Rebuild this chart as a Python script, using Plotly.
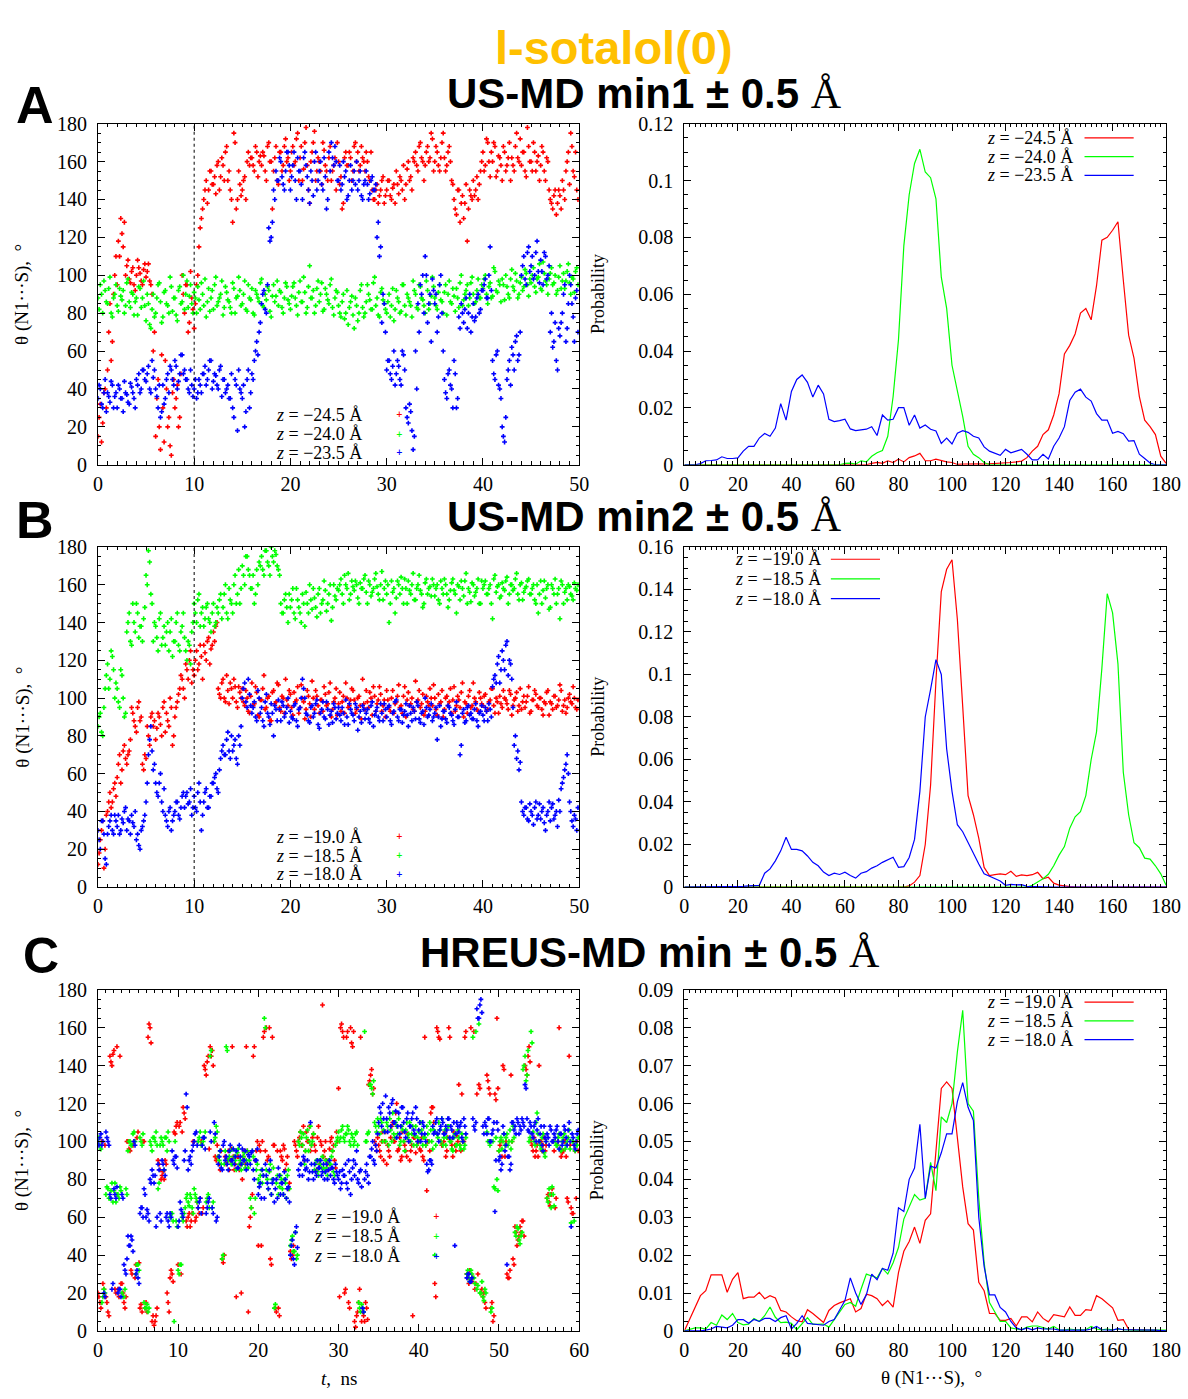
import plotly.graph_objects as go
from plotly.subplots import make_subplots

W, H = 1188, 1399
RED, GREEN, BLUE = '#ff0000', '#00ff00', '#0000ff'
DT = 0.25  # ns between stored samples; second set of samples is offset by DT/2

# ---------------- Panel A (US-MD min1) time series, theta in degrees ----------------
a_red = [15,32,22,40,50,85,65,100,95,110,122,128,105,98,102,95,100,104,97,103,
         99,106,95,60,15,45,8,30,55,20,10,38,30,42,25,100,80,95,75,88,
         72,95,115,130,140,150,145,155,148,143,160,152,158,165,150,145,128,170,140,148,
         145,152,160,158,162,155,165,160,158,163,150,170,160,155,168,148,165,158,172,162,
         155,168,160,175,162,150,170,158,138,165,176,155,160,148,166,155,162,150,158,145,
         160,152,138,165,158,162,155,170,165,158,162,155,160,150,145,140,148,142,150,138,
         145,150,140,148,155,143,150,158,148,160,152,162,165,155,170,160,158,168,162,172,
         160,165,155,170,162,158,168,150,140,132,145,138,130,148,135,142,150,145,140,155,
         165,158,170,152,160,168,155,162,150,165,158,170,162,155,175,160,158,165,152,168,
         160,170,155,163,158,165,150,160,140,135,145,138,142,150,140,160,148,168,152,145]
a_red2 = [25,12,38,30,70,55,90,110,118,130,115,100,108,96,104,92,108,101,95,106,
          102,97,90,70,35,20,58,12,40,25,5,45,35,20,48,90,95,70,102,82,
          85,100,125,135,145,138,155,148,152,158,145,162,150,168,155,140,175,135,155,142,
          150,140,165,162,158,168,152,163,165,155,168,160,135,162,150,165,155,168,160,150,
          165,158,172,150,168,156,178,145,160,170,150,162,155,170,158,150,168,155,162,170,
          148,135,162,158,165,150,168,160,155,168,160,165,152,165,140,145,138,145,152,142,
          150,142,146,138,148,152,145,140,156,150,145,160,158,168,162,150,165,160,175,155,
          168,158,162,175,155,165,160,148,135,145,128,142,138,118,145,140,142,152,148,160,
          155,172,160,165,170,152,163,158,168,155,162,150,158,168,162,172,165,155,178,160,
          155,165,160,150,168,155,162,145,138,142,132,145,135,145,155,165,175,155,165,140]
a_green = [88,95,80,92,85,99,78,90,84,93,87,80,96,86,91,79,88,94,83,97,
           76,85,72,90,80,95,86,78,92,84,99,81,88,76,94,86,82,97,89,85,
           91,80,87,96,84,78,93,88,82,99,86,90,79,94,87,83,96,80,89,92,
           85,97,81,88,93,79,90,86,98,83,87,92,78,95,89,84,91,80,96,87,
           82,94,88,79,97,86,91,83,105,88,80,93,86,96,82,90,85,98,79,92,
           84,78,90,80,74,86,79,88,76,92,83,80,95,87,82,99,88,78,93,85,
           80,90,84,76,92,86,81,95,79,88,84,97,90,82,94,87,80,92,85,99,
           88,82,95,86,91,79,97,85,89,93,83,100,87,92,84,96,90,86,98,88,
           93,100,85,96,89,102,91,95,98,87,94,88,103,92,97,90,99,94,101,89,
           96,104,91,99,93,107,97,90,101,95,100,92,105,97,93,102,96,99,91,104]
a_green2 = [82,90,97,86,93,80,88,95,81,89,92,84,98,83,90,86,79,93,88,84,
            90,74,82,78,88,96,75,91,85,80,94,88,79,92,85,100,90,83,95,80,
            88,94,82,90,98,86,81,92,95,84,88,97,83,91,86,80,93,88,99,84,
            90,82,95,87,80,92,88,96,84,90,94,81,89,86,97,92,83,88,94,85,
            89,96,84,91,86,99,80,94,88,92,84,97,90,81,93,87,95,83,88,91,
            80,86,77,92,83,89,72,84,80,95,78,86,90,82,96,84,79,91,87,82,
            86,78,93,82,88,80,95,84,90,86,78,92,83,95,88,84,97,82,89,94,
            84,91,87,80,95,90,86,93,81,88,96,84,90,95,88,99,85,92,88,95,
            98,90,94,88,104,92,97,86,95,100,90,98,94,101,88,96,92,103,95,98,
            100,94,98,106,92,101,95,98,104,96,90,99,93,101,97,106,90,98,102,95]
a_blue = [35,40,30,45,38,33,42,36,30,40,35,44,37,32,41,35,45,48,40,50,
          44,52,38,46,40,30,25,42,35,48,52,45,55,40,48,58,50,45,38,42,
          40,35,45,38,48,42,50,55,44,47,40,52,45,38,42,35,30,45,18,40,
          35,20,45,30,48,55,65,70,85,92,80,125,120,145,155,150,160,148,155,165,
          145,158,150,162,155,140,165,152,138,150,160,145,155,148,162,135,165,170,158,160,
          150,145,160,155,142,158,150,148,145,155,140,150,148,143,152,145,120,110,75,85,
          50,55,45,60,48,52,42,58,30,22,28,8,60,85,95,100,110,75,90,98,
          85,70,95,80,45,35,50,40,55,30,78,85,75,88,80,70,85,78,90,82,
          92,98,88,115,55,45,60,40,20,12,45,55,62,50,68,58,100,110,95,115,
          105,98,112,102,108,95,110,100,70,62,75,50,68,80,95,72,100,85,65,92]
a_blue2 = [42,32,38,28,36,44,30,38,42,35,28,38,33,43,38,30,42,38,50,45,
           48,40,55,50,36,42,28,32,45,38,50,42,52,44,58,48,45,40,50,36,
           45,38,42,48,52,45,55,40,48,42,50,36,45,40,35,48,25,42,50,38,
           42,28,50,38,45,60,58,75,90,82,95,118,128,140,150,162,152,145,165,158,
           152,165,140,155,148,162,158,145,155,142,165,150,160,145,152,140,155,162,168,150,
           158,148,152,140,150,145,155,160,150,142,148,155,140,150,145,148,128,115,90,70,
           55,48,52,42,55,45,60,50,25,32,18,15,40,70,90,80,100,85,65,92,
           90,78,100,60,38,48,42,30,48,35,72,80,82,72,90,78,76,88,80,92,
           95,88,100,92,48,58,42,35,15,25,50,42,58,65,55,70,105,98,112,102,
           110,100,118,96,102,112,98,105,80,65,55,72,75,90,65,85,95,78,88,70]

# ---------------- Panel B (US-MD min2) ----------------
b_red = [12,25,35,20,40,50,45,55,58,70,62,75,65,72,95,88,82,98,90,62,
         68,80,90,85,78,92,86,95,82,88,100,75,90,98,105,110,100,115,120,108,
         112,125,118,122,128,120,132,126,135,138,105,100,110,98,104,108,100,106,95,103,
         105,96,100,92,108,97,103,90,99,112,95,101,88,104,98,107,93,100,110,96,
         102,91,98,106,95,100,89,104,97,109,94,101,92,99,106,96,103,90,98,105,
         97,93,101,108,95,99,104,92,100,96,110,94,98,103,91,101,97,106,93,99,
         104,95,100,92,98,107,96,101,90,103,97,94,109,99,95,102,93,98,105,96,
         100,91,97,104,94,101,98,92,106,96,99,103,90,97,101,95,108,98,93,100,
         96,102,94,99,105,92,98,101,95,100,97,104,91,99,103,96,94,101,98,106,
         93,99,102,95,100,91,97,104,98,94,101,96,107,93,99,95,102,97,100,94]
b_red2 = [18,30,10,38,45,42,52,48,65,55,72,68,70,78,92,85,95,88,65,70,
          85,75,92,88,84,90,80,98,92,85,95,80,95,102,112,105,118,110,125,115,
          120,115,128,110,124,130,118,128,130,140,102,108,100,112,97,105,110,98,106,100,
          98,104,93,101,96,106,91,99,105,94,100,88,103,97,108,95,101,92,99,104,
          95,103,99,92,107,98,94,101,90,100,104,96,99,93,102,97,108,94,100,91,
          103,98,92,100,96,105,99,94,101,89,97,104,95,100,106,93,99,102,96,90,
          99,93,104,97,101,95,92,106,99,96,100,93,98,104,97,91,101,96,100,107,
          94,102,98,90,100,96,105,99,93,101,95,108,98,92,104,96,100,94,103,97,
          101,93,98,105,96,100,92,97,104,99,94,102,96,100,93,105,98,95,101,92,
          99,104,96,100,94,98,103,91,97,101,95,99,104,96,92,100,98,106,95,99]
b_green = [85,92,80,105,118,110,122,100,105,95,112,90,135,145,128,140,150,132,138,142,
           165,178,155,130,138,125,145,132,128,140,135,122,130,145,125,138,132,120,128,135,
           150,140,155,145,138,148,142,135,150,140,145,155,148,160,142,152,145,165,155,150,
           170,160,175,165,158,150,168,172,175,165,178,170,180,172,176,168,150,145,155,140,
           148,158,142,152,145,155,138,150,160,147,153,143,158,150,162,146,155,141,160,152,
           157,163,150,160,166,155,159,162,153,161,158,165,150,160,156,163,159,152,167,158,
           155,140,162,158,153,160,164,150,158,162,155,166,152,160,157,148,161,155,159,163,
           154,160,150,158,163,155,152,161,157,145,159,162,154,166,158,151,160,156,163,150,
           158,162,155,160,142,165,159,153,161,157,164,155,160,158,166,152,161,156,159,163,
           155,160,150,145,162,157,153,160,148,158,163,155,142,160,156,152,159,154,161,157]
b_green2 = [90,82,95,112,105,125,115,108,98,115,100,92,140,130,150,135,145,138,130,148,
            160,172,150,140,132,142,128,138,135,125,142,130,140,128,135,145,125,130,118,140,
            145,152,138,148,142,150,140,145,138,148,152,142,155,145,158,150,160,150,168,158,
            165,175,168,158,165,155,160,170,168,178,172,165,175,178,170,165,145,152,148,155,
            152,145,158,148,140,150,156,145,152,158,148,155,145,152,157,150,160,148,154,158,
            160,155,165,158,152,162,157,160,150,158,163,156,162,154,158,166,155,160,152,162,
            160,150,156,145,162,155,158,163,150,157,160,152,158,165,155,150,163,158,154,160,
            158,152,162,155,160,148,157,163,155,160,152,158,162,150,156,161,154,158,150,162,
            160,155,158,150,163,156,160,154,158,162,150,160,157,163,155,160,152,158,162,155,
            158,152,160,155,150,162,158,147,160,155,150,158,162,150,158,160,155,152,158,160]
b_blue = [30,20,35,15,28,35,30,38,32,28,36,40,30,35,38,32,25,22,30,35,
          45,70,85,62,55,48,60,40,38,32,42,35,40,45,36,48,42,50,45,38,
          48,40,55,30,45,52,42,48,55,60,50,68,75,70,82,68,72,78,65,75,
          100,108,95,102,92,98,88,100,95,85,102,90,97,80,94,99,88,96,92,100,
          93,89,97,85,95,110,100,91,87,96,92,99,84,94,90,98,86,93,97,89,
          95,88,92,99,86,94,91,97,83,93,96,89,94,87,98,91,95,88,92,97,
          90,96,86,93,99,88,94,91,97,85,92,95,89,96,87,93,100,90,94,88,
          92,78,96,89,93,87,95,91,86,98,90,75,94,88,96,92,89,97,85,93,
          91,95,88,94,106,112,118,108,125,115,130,120,110,75,68,62,45,38,42,35,
          40,33,45,38,36,42,30,40,35,44,38,32,40,55,62,70,45,35,38,30]
b_blue2 = [25,35,28,12,32,38,28,35,38,30,34,42,36,28,34,40,28,20,32,38,
           55,78,72,65,50,55,45,52,35,40,30,38,45,38,42,50,48,44,52,42,
           42,50,45,38,50,42,48,55,58,52,62,72,70,78,72,80,75,68,80,85,
           105,98,110,96,95,90,104,92,88,98,92,86,92,96,88,94,98,90,95,87,
           90,96,88,94,100,105,92,88,95,90,97,86,92,98,89,94,91,87,95,92,
           91,95,86,90,97,92,88,95,90,87,94,92,89,96,85,93,90,97,88,94,
           95,88,92,98,90,94,87,93,91,96,88,93,98,89,92,86,95,91,97,90,
           95,90,85,93,89,96,92,88,94,90,70,92,87,95,91,89,94,88,92,96,
           88,93,97,90,110,108,122,115,120,128,112,118,95,80,72,66,40,42,36,44,
           38,42,36,44,40,34,38,45,42,36,40,46,52,58,65,60,40,32,36,42]

# ---------------- Panel C (HREUS-MD min) ----------------
c_red = [20,15,100,22,18,10,145,140,148,20,22,145,25,15,18,100,95,30,100,35,
         105,12,10,100,15,155,160,5,3,8,90,85,82,80,88,15,28,30,105,108,
         35,110,105,115,58,60,55,62,100,60,65,70,62,140,135,145,150,148,100,90,
         92,85,38,40,88,95,90,150,85,18,92,88,80,95,150,10,60,72,150,95,
         45,95,100,158,160,92,38,155,98,10,12,95,90,96,88,75,42,40,100,95,
         100,105,98,90,105,100,95,102,98,85,108,100,172,95,90,85,100,95,90,105,
         128,160,158,20,155,15,160,150,5,8,15,155,10,5,12,130,135,125,100,95,
         98,92,105,100,88,95,102,110,100,120,96,90,105,98,92,100,95,8,102,98,
         100,95,92,155,74,100,115,118,25,160,155,100,98,105,95,160,100,92,98,103,
         130,95,100,155,30,25,160,28,22,125,130,20,18,15,135,128,12,5,125,165,
         95,100,140,92,30,28,135,38,55,45,50,52,58,140,135,150,100,95,92,98,
         140,100,98,95,70,68,72,100,65,98,160,92,95,100,70,145,65,62,95,100]
c_red2 = [18,12,25,98,15,8,142,146,22,150,18,25,20,12,100,96,32,98,28,102,
          36,14,100,12,10,162,152,8,5,12,88,80,84,90,20,10,32,26,104,110,
          108,30,118,112,55,62,58,100,58,68,62,100,65,138,142,96,145,140,92,98,
          88,95,36,92,90,85,96,92,88,92,85,20,92,88,95,55,65,145,90,100,
          98,45,155,95,90,160,35,98,12,95,8,92,98,85,92,78,38,45,98,92,
          102,98,108,95,100,108,98,104,95,102,88,98,92,100,88,96,102,98,86,100,
          18,162,155,22,158,12,152,158,2,10,22,5,8,15,6,132,138,128,98,102,
          95,100,90,105,98,92,108,100,115,95,102,92,100,95,104,90,98,102,94,100,
          96,102,90,98,100,95,118,110,18,158,154,98,100,92,102,155,98,105,95,100,
          98,125,100,158,28,32,26,158,25,30,128,22,20,12,132,125,15,8,122,128,
          98,92,138,100,28,32,100,35,52,48,55,58,50,138,145,142,98,102,95,92,
          100,95,102,98,72,66,75,95,70,100,96,94,100,92,68,98,62,98,70,95]
c_green = [100,98,15,22,72,75,70,78,74,68,72,76,20,18,75,95,100,98,105,30,
           35,102,98,15,12,10,100,95,102,105,75,98,100,85,102,105,60,62,5,58,
           32,35,60,62,70,68,72,65,75,70,100,105,98,102,68,72,145,65,100,108,
           92,95,38,88,150,90,95,88,92,85,96,90,88,94,90,86,70,95,62,85,
           80,82,78,165,85,75,88,80,12,78,72,82,75,80,70,85,45,50,42,38,
           100,105,98,88,102,95,108,100,85,90,82,88,92,84,86,90,88,95,82,100,
           105,102,108,100,104,106,98,102,100,105,15,10,12,158,100,105,130,125,110,105,
           108,112,100,105,110,98,106,115,102,108,112,100,106,95,110,104,100,108,103,98,
           105,110,98,102,108,100,106,96,40,104,110,100,98,106,102,108,100,95,104,98,
           102,96,100,98,30,28,32,155,25,22,162,20,18,22,105,100,10,100,75,80,
           95,102,100,98,104,100,96,108,52,55,48,50,138,145,135,100,158,105,98,115,
           100,96,104,92,70,75,65,72,100,98,104,95,102,96,100,106,57,100,95,98]
c_green2 = [102,96,18,20,76,70,74,68,78,72,70,74,18,22,72,100,98,104,100,35,
            32,100,104,12,14,12,98,102,100,98,78,102,98,102,95,100,62,58,100,55,
            30,35,58,65,72,66,70,62,72,68,102,98,100,105,70,65,148,68,102,105,
            90,88,40,95,148,92,88,96,90,94,88,85,92,86,95,90,65,92,70,88,
            78,85,82,160,80,84,72,86,14,82,76,80,72,78,82,75,48,42,52,40,
            98,102,104,95,106,100,98,104,88,84,90,86,86,90,82,88,92,84,98,102,
            100,106,102,104,108,100,104,98,104,98,12,14,10,100,104,130,128,132,108,112,
            104,110,106,100,108,112,100,104,110,104,98,108,100,106,102,110,104,98,108,102,
            100,106,102,98,104,110,100,106,98,102,106,112,102,98,108,100,96,102,98,106,
            98,104,96,102,32,26,30,28,158,24,20,26,16,20,100,98,12,76,102,74,
            100,96,104,102,98,106,100,102,50,54,46,52,140,132,148,102,152,100,110,104,
            98,102,94,100,68,72,76,66,98,102,96,100,104,98,102,96,100,58,98,102]
c_blue = [100,102,98,20,105,100,72,22,75,70,20,22,72,35,30,50,45,48,100,30,
          28,62,65,75,60,62,80,85,78,55,88,62,90,85,60,58,62,95,88,92,
          55,68,62,90,125,85,92,95,100,105,65,70,98,102,62,68,105,65,110,58,
          88,95,85,100,92,85,98,90,88,95,86,92,96,90,85,93,88,95,80,90,
          72,78,85,70,82,75,90,78,68,80,86,72,78,84,70,76,40,48,35,55,
          85,88,82,90,86,80,110,84,88,82,86,90,84,80,88,85,82,86,78,84,
          80,75,85,82,78,90,72,86,82,95,78,85,12,80,88,78,92,100,88,95,
          110,115,120,105,112,118,108,122,110,102,115,108,118,105,112,100,108,115,104,112,
          106,100,110,104,88,85,90,108,105,112,100,108,110,104,106,112,108,102,45,110,
          105,110,100,108,28,30,26,112,106,170,165,175,108,110,104,112,100,106,63,110,
          90,85,108,95,35,92,88,110,108,112,104,106,110,130,112,105,108,102,110,106,
          100,108,95,102,104,98,106,100,102,108,96,104,100,106,98,110,55,102,96,104]
c_blue2 = [98,104,100,18,102,98,70,25,72,76,22,18,70,32,38,45,50,42,98,32,
           25,65,60,72,64,58,78,82,82,60,85,58,88,82,62,55,60,90,92,86,
           58,64,60,95,118,90,88,98,104,98,68,62,102,96,65,70,100,62,104,60,
           92,86,98,90,88,95,90,96,92,86,98,88,90,95,88,92,94,85,90,96,
           76,70,82,88,78,85,72,80,75,70,82,78,72,80,75,68,45,38,52,44,
           82,88,92,85,90,84,88,80,84,90,86,82,88,84,80,90,86,80,88,82,
           84,78,82,88,75,84,80,90,88,80,84,76,10,84,82,92,96,90,98,104,
           118,108,112,124,105,115,120,110,116,108,104,118,110,102,115,108,112,106,118,100,
           110,104,108,100,84,90,88,104,110,104,106,112,104,108,112,102,106,110,104,108,
           108,102,112,104,30,26,28,108,110,165,172,168,104,108,112,100,104,110,90,106,
           92,88,104,98,92,85,110,106,104,110,108,112,108,128,106,110,104,108,100,112,
           104,98,108,100,102,108,100,104,106,100,104,98,108,102,106,100,104,98,100,106]

# ---------------- Probability distributions (theta bins of 2 degrees, 0..180) ----------------
theta_bins = list(range(0, 181, 2))
pa_red = [0]*35 + [0.0005,0.0008,0.0005,0.0014,0.0008,0.002,0.001,0.0025,0.0031,0.004,
          0.0014,0.0014,0.002,0.0014,0.001,0.0008,0.0001,0.0002,0.0003,0.0002,
          0.0003,0.0002,0.0003,0.0003,0.0004,0.0006,0.0008,0.001,0.0013,0.0025,
          0.0048,0.0065,0.0106,0.0123,0.0175,0.025,0.039,0.042,0.046,0.0534,
          0.055,0.051,0.063,0.079,0.080,0.0825,0.0855,0.065,0.0456,0.0375,
          0.024,0.0157,0.0134,0.0106,0.003,0.0005]
pa_green = [0]*30 + [0.0005,0.0006,0.0002,0.0014,0.001,0.003,0.0042,0.005,0.010,0.024,
            0.044,0.077,0.095,0.106,0.111,0.103,0.101,0.0936,0.066,0.055,
            0.035,0.026,0.017,0.0065,0.0037,0.0025,0.0008] + [0]*34
pa_blue = [0,0,0,0.0004,0.0014,0.0015,0.0017,0.0028,0.0022,0.0022,
           0.0024,0.0048,0.0065,0.0065,0.0094,0.011,0.01,0.0129,0.0215,0.0157,
           0.0258,0.030,0.0316,0.029,0.0238,0.028,0.0249,0.016,0.0152,0.0155,
           0.016,0.0126,0.012,0.0123,0.0125,0.0134,0.0103,0.0175,0.0157,0.016,
           0.0201,0.0201,0.0139,0.0175,0.0129,0.014,0.0125,0.0119,0.0075,0.0094,
           0.0073,0.0111,0.012,0.0114,0.01,0.0094,0.0063,0.0048,0.004,0.0033,
           0.0054,0.0042,0.0048,0.0054,0.0037,0.0017,0.0017,0.0037,0.002,0.0065,
           0.0094,0.0134,0.0226,0.0255,0.0266,0.0238,0.0224,0.018,0.0157,0.0157,
           0.0111,0.0117,0.0109,0.0083,0.0085,0.0037,0.0022,0.0006,0,0,0]

pb_red = [0]*42 + [0.0005,0.0023,0.0054,0.02,0.048,0.097,0.139,0.1495,0.154,0.126,
          0.085,0.043,0.034,0.023,0.0092,0.0054,0.0058,0.0062,0.0058,0.0074,
          0.005,0.0057,0.0054,0.0058,0.0069,0.0039,0.0046,0.0018,0.0009,0.0004,
          0.0002] + [0]*18
pb_green = [0]*65 + [0.0008,0.0023,0.0039,0.006,0.01,0.015,0.019,0.0277,0.033,0.0354,
            0.043,0.06,0.073,0.103,0.138,0.129,0.105,0.054,0.034,0.0208,
            0.0185,0.0136,0.0131,0.01,0.0062,0.0008]
pb_blue = [0]*10 + [0.0002,0.0003,0.0005,0.0008,0.0008,0.0065,0.0085,0.0123,0.017,0.0234,
           0.0177,0.0177,0.017,0.0146,0.0116,0.01,0.007,0.0054,0.0065,0.0059,
           0.007,0.0054,0.0042,0.0065,0.0072,0.0089,0.01,0.0116,0.013,0.014,
           0.0093,0.0096,0.0139,0.0224,0.045,0.08,0.093,0.107,0.1,0.065,
           0.045,0.0293,0.026,0.021,0.0154,0.0108,0.0062,0.005,0.0039,0.0028,
           0.0008,0.0012,0.001,0.0011,0.0003,0.0002] + [0]*25

pc_red = [0,0.003,0.0063,0.0093,0.0106,0.0148,0.0148,0.0148,0.0102,0.0136,
          0.0154,0.0085,0.0089,0.0089,0.0102,0.0085,0.0093,0.0087,0.0054,0.005,
          0.0037,0.0027,0.0024,0.0056,0.0046,0.0033,0.0022,0.0054,0.0067,0.0074,
          0.008,0.0085,0.005,0.0059,0.0097,0.0093,0.0085,0.0067,0.008,0.0063,
          0.0154,0.021,0.0236,0.0274,0.0231,0.0292,0.0309,0.048,0.064,0.0657,
          0.064,0.051,0.038,0.0283,0.0266,0.0128,0.0106,0.0046,0.0046,0.0028,
          0.0028,0.0033,0.0013,0.0037,0.0037,0.0024,0.005,0.0033,0.0024,0.0043,
          0.0039,0.0037,0.0063,0.0041,0.0041,0.0056,0.0054,0.0093,0.0085,0.0072,
          0.0061,0.0028,0.003,0.0004,0.0002,0.0002,0.0002,0.0002,0.0001,0.0001,0]
pc_green = [0,0.0003,0.0008,0.0008,0.0005,0.0022,0.0015,0.0042,0.003,0.0046,
            0.0022,0.0016,0.0018,0.0033,0.0025,0.004,0.0063,0.0036,0.0022,0.0023,
            0.002,0.0003,0.0018,0.0035,0.0017,0.0018,0.0018,0.001,0.003,0.0052,
            0.007,0.0075,0.0065,0.011,0.015,0.0145,0.014,0.0165,0.015,0.018,
            0.022,0.0295,0.033,0.036,0.0345,0.035,0.0445,0.037,0.0565,0.055,
            0.06,0.0736,0.0846,0.06,0.058,0.035,0.018,0.0075,0.005,0.0025,
            0.0025,0.0008,0.0005,0.0003,0.001,0.0013,0.0013,0.001,0.0005,0.0012,
            0.0003,0.0002,0.0005,0.0003,0.0003,0.0003,0.0012,0.0005,0.0003,0.0005,
            0.0003,0.0005,0.0003,0.0002,0.0002,0.0002,0.0002,0.0002,0.0002,0.0002,0.0002]
pc_blue = [0,0,0,0,0.0002,0.0005,0.0012,0.001,0.0008,0.0015,
           0.003,0.003,0.002,0.003,0.0025,0.0033,0.0033,0.0025,0.0035,0.004,
           0.0005,0.002,0.004,0.002,0.0018,0.0017,0.0015,0.0025,0.003,0.0055,
           0.008,0.014,0.01,0.007,0.0095,0.015,0.0135,0.0165,0.016,0.0205,
           0.0325,0.0315,0.04,0.043,0.0545,0.035,0.0435,0.043,0.047,0.052,
           0.052,0.0605,0.0655,0.059,0.0555,0.03,0.017,0.0095,0.0095,0.0062,
           0.005,0.0025,0.0008,0.0003,0.0008,0.0003,0.0008,0.0005,0.0005,0.0005,
           0.0002,0.0002,0.0002,0.0002,0.0002,0.0002,0.0005,0.0012,0.0003,0.0002,
           0.0002,0.0006,0.0003,0.0003,0.0003,0.0003,0.0002,0.0002,0.0002,0.0001,0]

labels_A = ['\u221224.5', '\u221224.0', '\u221223.5']
labels_BC = ['\u221219.0', '\u221218.5', '\u221218.0']

# ---------------- figure ----------------
fig = make_subplots(rows=3, cols=2)
colors = [RED, GREEN, BLUE]
series_ts = [[(a_red, a_red2), (a_green, a_green2), (a_blue, a_blue2)],
             [(b_red, b_red2), (b_green, b_green2), (b_blue, b_blue2)],
             [(c_red, c_red2), (c_green, c_green2), (c_blue, c_blue2)]]
series_p = [[pa_red, pa_green, pa_blue], [pb_red, pb_green, pb_blue], [pc_red, pc_green, pc_blue]]

for r in range(3):
    for s, col in enumerate(colors):
        v1, v2 = series_ts[r][s]
        t = [i * DT for i in range(len(v1))] + [(i + 0.5) * DT for i in range(len(v2))]
        fig.add_trace(go.Scatter(x=t, y=list(v1) + list(v2), mode='markers',
                                 marker=dict(symbol='cross', size=4, color=col, line=dict(width=0)),
                                 showlegend=False, hoverinfo='skip'), row=r + 1, col=1)
    for s, col in enumerate(colors):
        fig.add_trace(go.Scatter(x=theta_bins, y=series_p[r][s], mode='lines',
                                 line=dict(color=col, width=1.2),
                                 showlegend=False, hoverinfo='skip'), row=r + 1, col=2)

SERIF = 'Liberation Serif, Times New Roman, serif'
common = dict(showline=True, linecolor='black', linewidth=1, mirror='allticks',
              ticks='inside', ticklen=7, tickwidth=1, tickcolor='black',
              showgrid=False, zeroline=False,
              tickfont=dict(family=SERIF, size=20, color='black'))

xl = [94.5 / W, 584 / W]
xr = [691 / W, 1181 / W]
ydom = [[1 - 461 / H, 1 - 114.5 / H], [1 - 890 / H, 1 - 544.5 / H], [1 - 1341 / H, 1 - 994.5 / H]]
pmax = [0.12, 0.16, 0.09]
pdt = [0.02, 0.02, 0.01]
tmax = [50, 50, 60]

for r in range(3):
    fig.update_xaxes(domain=xl, range=[0, tmax[r]], dtick=10, tick0=0, ticklabelstandoff=1,
                     minor=dict(ticks='inside', ticklen=3.5, dtick=1, tickcolor='black', showgrid=False),
                     row=r + 1, col=1, **common)
    fig.update_yaxes(domain=ydom[r], range=[0, 180], dtick=20, tick0=0, ticklabelstandoff=6,
                     minor=dict(ticks='inside', ticklen=3.5, dtick=5, tickcolor='black', showgrid=False),
                     row=r + 1, col=1, **common)
    fig.update_xaxes(domain=xr, range=[0, 180], dtick=20, tick0=0, ticklabelstandoff=1,
                     minor=dict(ticks='inside', ticklen=3.5, dtick=2, tickcolor='black', showgrid=False),
                     row=r + 1, col=2, **common)
    fig.update_yaxes(domain=ydom[r], range=[0, pmax[r]], dtick=pdt[r], tick0=0, ticklabelstandoff=6,
                     minor=dict(ticks='inside', ticklen=3.5, dtick=pdt[r] / 4, tickcolor='black', showgrid=False),
                     row=r + 1, col=2, **common)

shapes = []
# dotted reference line at t = 10 ns (panels A and B)
for xa, ya in [('x', 'y'), ('x3', 'y3')]:
    shapes.append(dict(type='line', xref=xa, yref=ya, x0=10, x1=10, y0=0, y1=180,
                       line=dict(color='black', width=1, dash='dot')))

ann = []
def txt(x, y, text, size, family=SERIF, color='black', xanchor='center', angle=0):
    ann.append(dict(x=x / W, y=1 - y / H, xref='paper', yref='paper', text=text, showarrow=False,
                    font=dict(family=family, size=size, color=color), xanchor=xanchor,
                    yanchor='middle', textangle=angle, borderpad=0))

SANS = 'Liberation Sans Narrow, Arial Narrow, Liberation Sans, Arial, sans-serif'
ANG = "<span style='font-family:Liberation Serif;font-weight:normal'>\u00c5</span>"
txt(619, 37, '<b>l-sotalol(0)</b>', 47, SANS, '#ffc000')
txt(650, 84, '<b>US-MD min1 \u00b1 0.5</b> ' + ANG, 42, SANS)
txt(650, 514, '<b>US-MD min2 \u00b1 0.5</b> ' + ANG, 42, SANS)
txt(656, 957, '<b>HREUS-MD min \u00b1 0.5</b> ' + ANG, 42, SANS)
txt(31, 96, '<b>A</b>', 52, SANS)
txt(31, 517, '<b>B</b>', 52, SANS)
txt(37, 960, '<b>C</b>', 50, SANS)

theta_label = '\u03b8 (N1\u00b7\u00b7\u00b7S),  \u00b0'
for yc in [(114.5 + 461) / 2, (544.5 + 890) / 2, (994.5 + 1341) / 2]:
    txt(18, yc, theta_label, 19, angle=-90)
    txt(603, yc, 'Probability', 18, angle=-90)
txt(340, 1389, '<i>t</i>,  ns', 19)
txt(942, 1389, theta_label, 19)

# legends
def leg_scatter(xtext, xmark, ys, labels):
    for yy, lab, col in zip(ys, labels, colors):
        txt(xtext, yy, '<i>z</i> = ' + lab + ' \u00c5', 18, xanchor='right')
        txt(xmark, yy, '<b>+</b>', 8, family='DejaVu Sans', color=col)

def leg_lines(xtext, x0, x1, ys, labels):
    for yy, lab, col in zip(ys, labels, colors):
        txt(xtext, yy, '<i>z</i> = ' + lab + ' \u00c5', 18, xanchor='right')
        shapes.append(dict(type='line', xref='paper', yref='paper', x0=x0 / W, x1=x1 / W,
                           y0=1 - yy / H, y1=1 - yy / H, line=dict(color=col, width=1.2)))

leg_scatter(364, 401, [410, 430, 449], labels_A)
leg_scatter(364, 401, [839, 858, 877], labels_BC)
leg_scatter(403, 439, [1225, 1245, 1265], labels_BC)
leg_lines(1087, 1098, 1148, [129, 148, 167], labels_A)
leg_lines(831, 840, 890, [557, 577, 597], labels_BC)
leg_lines(1087, 1098, 1148, [1007, 1026, 1045], labels_BC)

fig.update_layout(width=W, height=H, margin=dict(l=0, r=0, t=0, b=0),
                  paper_bgcolor='white', plot_bgcolor='white',
                  shapes=shapes, annotations=ann, showlegend=False)
fig.write_html('out.html')
